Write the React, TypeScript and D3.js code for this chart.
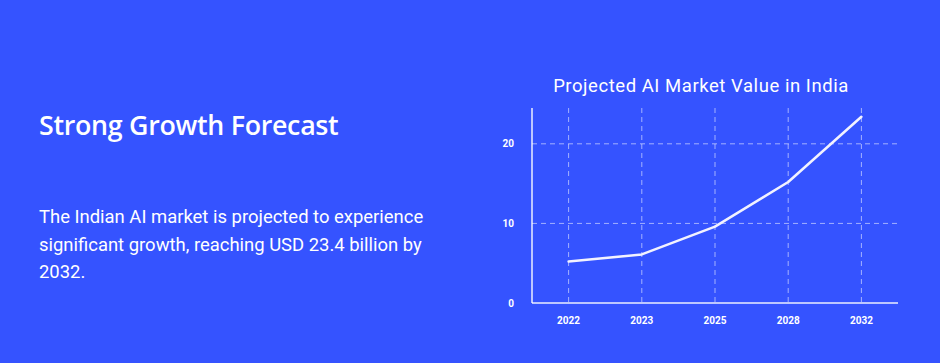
import React from "react";
import * as d3 from "d3";

const years = ["2022", "2023", "2025", "2028", "2032"];
const values = [5.2, 6.1, 9.6, 15.2, 23.4];
const yTicks = [0, 10, 20];
const yMax = 24.5;

const W = 940;
const H = 363;
const BG = "#3553ff";

export default function App() {
  const x = d3.scaleBand<string>().domain(years).range([532, 898]).padding(0);
  const y = d3.scaleLinear().domain([0, yMax]).range([303, 108]);
  const cx = (d: string) => (x(d) as number) + x.bandwidth() / 2;
  const line = d3
    .line<number>()
    .x((_, i) => cx(years[i]))
    .y((v) => y(v))
    .curve(d3.curveLinear);

  return (
    <div style={{ position: "fixed", left: 0, top: 0, width: W, height: H, background: BG }}>
      <svg width={W} height={H} style={{ display: "block" }}>
        <rect x={0} y={0} width={W} height={H} fill={BG} />
        <text
          x={39}
          y={135}
          fill="#fff"
          fontFamily="'Open Sans', sans-serif"
          fontWeight={600}
          fontSize={26.8}
          letterSpacing={-0.3}
        >
          Strong Growth Forecast
        </text>
        {[
          "The Indian AI market is projected to experience",
          "significant growth, reaching USD 23.4 billion by",
          "2032.",
        ].map((t, i) => (
          <text
            key={i}
            x={39}
            y={223 + i * 27.5}
            fill="#fff"
            fontFamily="Roboto, sans-serif"
            fontSize={18.45}
          >
            {t}
          </text>
        ))}
        <text
          x={701}
          y={92}
          textAnchor="middle"
          fill="#fff"
          fontFamily="Roboto, sans-serif"
          fontSize={18.5}
          letterSpacing={0.55}
        >
          Projected AI Market Value in India
        </text>
        {yTicks
          .filter((t) => t > 0)
          .map((t) => (
            <line
              key={"h" + t}
              x1={532}
              x2={898}
              y1={y(t)}
              y2={y(t)}
              stroke="rgba(255,255,255,0.55)"
              strokeWidth={1}
              strokeDasharray="5,4"
            />
          ))}
        {years.map((d) => (
          <line
            key={"v" + d}
            x1={cx(d)}
            x2={cx(d)}
            y1={108}
            y2={303}
            stroke="rgba(255,255,255,0.55)"
            strokeWidth={1}
            strokeDasharray="5,4"
          />
        ))}
        <line x1={532} x2={532} y1={108} y2={303} stroke="rgba(255,255,255,0.9)" strokeWidth={1.5} />
        <line x1={532} x2={898} y1={303} y2={303} stroke="rgba(255,255,255,0.9)" strokeWidth={1.5} />
        {yTicks.map((t) => (
          <text
            key={"yt" + t}
            x={514}
            y={y(t) + 3.5}
            textAnchor="end"
            fill="#fff"
            fontFamily="Roboto, sans-serif"
            fontWeight={700}
            fontSize={10}
          >
            {t}
          </text>
        ))}
        {years.map((d) => (
          <text
            key={"xt" + d}
            x={cx(d)}
            y={324}
            textAnchor="middle"
            fill="#fff"
            fontFamily="Roboto, sans-serif"
            fontWeight={700}
            fontSize={10}
          >
            {d}
          </text>
        ))}
        <path
          d={line(values) || ""}
          fill="none"
          stroke="#f2f2ff"
          strokeWidth={2.5}
          strokeLinejoin="round"
          strokeLinecap="round"
        />
      </svg>
    </div>
  );
}
